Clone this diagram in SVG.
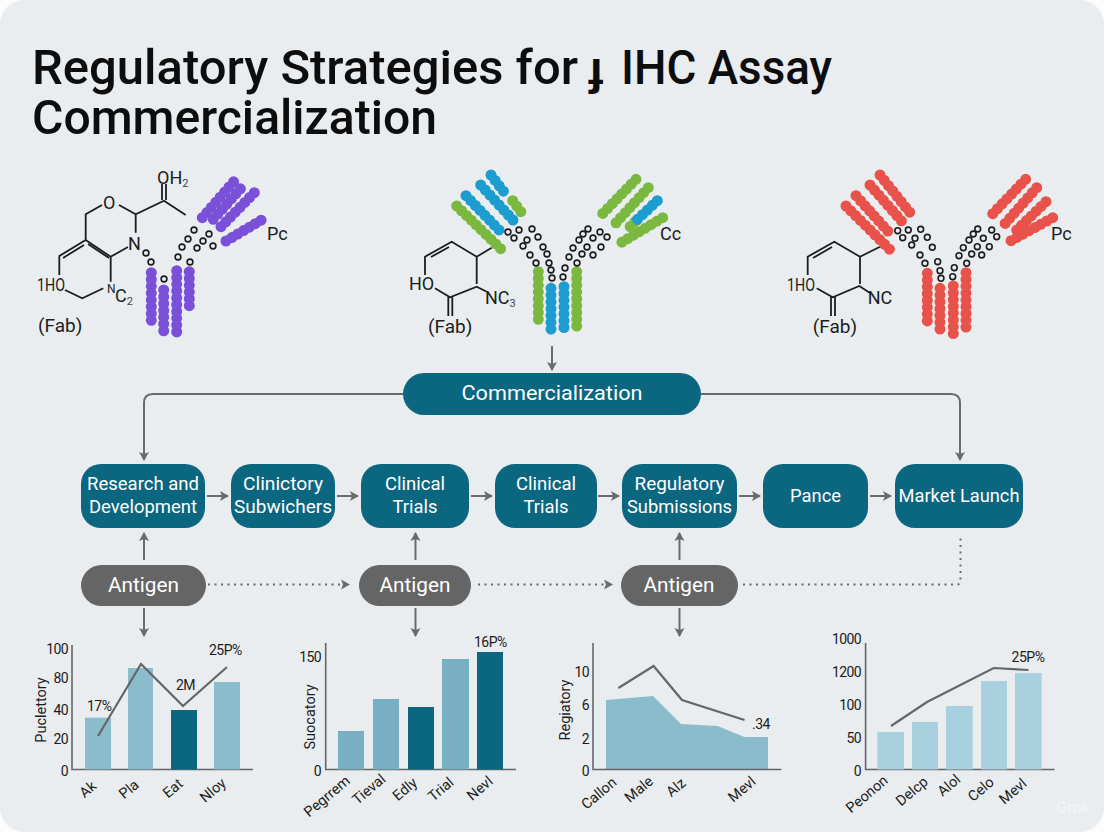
<svg xmlns="http://www.w3.org/2000/svg" width="1104" height="832" viewBox="0 0 1104 832">
<style>
text{font-family:Roboto,"Liberation Sans",sans-serif;fill:#1c1c1c}
.title{font-size:48px;font-weight:500;fill:#0d0d0d}
.nl{font-size:18px;fill:#fff;text-anchor:middle;font-weight:400}
.ag{font-size:21px;fill:#fff;text-anchor:middle}
.bond{fill:none;stroke:#1c1c1c;stroke-width:1.8}
.m{font-size:18px}
.s{font-size:11px;fill:#444}
.b{fill:none;stroke-width:11;stroke-linecap:round;stroke-dasharray:0 6.8}
.pu{stroke:#7a50d8}.gr{stroke:#7ab840}.bl{stroke:#1d9cd0}.re{stroke:#e8524a}
.r{fill:#e9edef;stroke:#1c1c1c;stroke-width:1.6}
.c{fill:none;stroke:#6a6a6a;stroke-width:2}
.d{fill:none;stroke:#6a6a6a;stroke-width:2;stroke-dasharray:2 4.5}
.ax{fill:none;stroke:#666;stroke-width:1.6}
.ln{fill:none;stroke:#666;stroke-width:2.2}
.t{font-size:14px;text-anchor:end;letter-spacing:-.6px}
.yl{font-size:14.5px;text-anchor:middle}
.xl{font-size:14.5px;text-anchor:middle}
.v{font-size:14px;letter-spacing:-.5px}
</style>
<defs>
<marker id="ah" markerUnits="userSpaceOnUse" markerWidth="12" markerHeight="12" refX="9" refY="6" orient="auto"><path d="M1 1L10 6L1 11L3 6Z" fill="#6a6a6a"/></marker>
</defs>
<rect width="1104" height="832" fill="#fcfcfc"/>
<rect width="1104" height="832" rx="24" fill="#e9edef"/>
<g id="title">
<text class="title" x="32" y="84" textLength="546" lengthAdjust="spacingAndGlyphs">Regulatory Strategies for</text>
<text class="title" x="588" y="84" style="font-size:46px;font-weight:700">ɟ</text>
<text class="title" x="621" y="84" textLength="211" lengthAdjust="spacingAndGlyphs">IHC Assay</text>
<text class="title" x="32" y="134" textLength="405" lengthAdjust="spacingAndGlyphs">Commercialization</text>
</g>
<g id="antibody-purple">
<path class="bond" d="M162 184V200M166 184V200M185.700 215L164 200.700L135.700 214.300L119 205M102 205L85.700 214.300V240L110.700 256.700L128 247M135.700 214.300V232.700M85.700 240L59.300 256V275M84 245L63 258M88 244L109 258M65 290L82.300 298.300L103.300 288.300M110.700 256.700V281.700"/>
<text class="m" x="157" y="184">OH<tspan class="s" dy="3">2</tspan></text>
<text class="m" x="103" y="209">O</text>
<text class="m" x="128" y="250">N</text>
<text class="m" x="37" y="291" textLength="28" lengthAdjust="spacingAndGlyphs">1HO</text>
<text x="107" y="293" style="font-size:12px">N</text>
<text class="m" x="115" y="302">C<tspan class="s" dy="3">2</tspan></text>
<text x="38" y="332" style="font-size:19px">(Fab)</text>
<text class="m" x="267" y="240">Pc</text>
<line class="b pu" x1="151.300" y1="272.700" x2="151.300" y2="326"/>
<line class="b pu" x1="163.700" y1="290" x2="163.700" y2="333"/>
<line class="b pu" x1="176.700" y1="270.700" x2="176.700" y2="334"/>
<line class="b pu" x1="189.300" y1="271.700" x2="189.300" y2="309"/>
<line class="b pu" x1="202.300" y1="217.700" x2="236.700" y2="178.300"/>
<line class="b pu" x1="213.300" y1="219.300" x2="241.700" y2="187.300"/>
<line class="b pu" x1="221" y1="226.700" x2="256" y2="191"/>
<line class="b pu" x1="226" y1="241" x2="266" y2="217.300"/>
<g class="r"><circle cx="146" cy="253" r="2.900"/><circle cx="151" cy="262" r="2.900"/><circle cx="164" cy="279" r="2.900"/><circle cx="178" cy="257" r="2.900"/><circle cx="182" cy="247" r="2.900"/><circle cx="188" cy="239" r="2.900"/><circle cx="194" cy="230" r="2.900"/><circle cx="190" cy="262" r="2.900"/><circle cx="197" cy="248" r="2.900"/><circle cx="203" cy="241" r="2.900"/><circle cx="209" cy="234" r="2.900"/><circle cx="213" cy="246" r="2.900"/></g>
</g>
<g id="antibody-blue-green">
<path class="bond" d="M491.700 247.700L476.700 256.700L451.700 241.700L425 256.700V275M435 288.300L450 297.300L476.700 286.700L486.700 291.700M476.700 256.700V284M449 247L431 257M448.300 297V316M452.300 297V316"/>
<text class="m" x="409" y="290">HO</text>
<text class="m" x="485" y="304">NC<tspan class="s" dy="3">3</tspan></text>
<text x="428" y="333" style="font-size:19px">(Fab)</text>
<text class="m" x="660" y="240">Cc</text>
<line class="b gr" x1="538.300" y1="271.700" x2="538.300" y2="326"/>
<line class="b bl" x1="551" y1="288.300" x2="551" y2="334"/>
<line class="b bl" x1="564" y1="286.700" x2="564" y2="334"/>
<line class="b gr" x1="576.700" y1="271.700" x2="576.700" y2="329"/>
<line class="b bl" x1="491" y1="175" x2="505" y2="193.300"/>
<line class="b gr" x1="512.700" y1="200.700" x2="524" y2="216"/>
<line class="b bl" x1="480.700" y1="185" x2="516" y2="223.300"/>
<line class="b bl" x1="466" y1="195.700" x2="500.700" y2="231.700"/>
<line class="b gr" x1="456.700" y1="206" x2="502.700" y2="250.700"/>
<line class="b gr" x1="636" y1="179.300" x2="599" y2="217.300"/>
<line class="b gr" x1="648.300" y1="187.700" x2="614" y2="225"/>
<line class="b gr" x1="662.700" y1="217.700" x2="621.700" y2="242.300"/>
<line class="b gr" x1="635" y1="221.700" x2="626" y2="230.700"/>
<line class="b bl" x1="657.300" y1="200.700" x2="633.300" y2="223.300"/>
<g class="r"><circle cx="508" cy="232" r="2.900"/><circle cx="514" cy="238" r="2.900"/><circle cx="523" cy="246" r="2.900"/><circle cx="530" cy="255" r="2.900"/><circle cx="536" cy="263" r="2.900"/><circle cx="519" cy="230" r="2.900"/><circle cx="527" cy="240" r="2.900"/><circle cx="532" cy="229" r="2.900"/><circle cx="538" cy="237" r="2.900"/><circle cx="543" cy="247" r="2.900"/><circle cx="547" cy="254" r="2.900"/><circle cx="549" cy="263" r="2.900"/><circle cx="551" cy="270" r="2.900"/><circle cx="552" cy="278" r="2.900"/><circle cx="563" cy="277" r="2.900"/><circle cx="565" cy="268" r="2.900"/><circle cx="569" cy="257" r="2.900"/><circle cx="573" cy="248" r="2.900"/><circle cx="579" cy="240" r="2.900"/><circle cx="583" cy="234" r="2.900"/><circle cx="588" cy="229" r="2.900"/><circle cx="577" cy="263" r="2.900"/><circle cx="582" cy="254" r="2.900"/><circle cx="587" cy="247" r="2.900"/><circle cx="593" cy="238" r="2.900"/><circle cx="600" cy="232" r="2.900"/><circle cx="607" cy="237" r="2.900"/><circle cx="601" cy="247" r="2.900"/><circle cx="593" cy="255" r="2.900"/></g>
</g>
<g id="antibody-red">
<path class="bond" d="M880 246.700L860 256.700L834.300 241.700L807.700 256.700V275M816.700 288.300L832.700 297.300L859.300 286L870 293M860 256.700V284M832 247L813 258M831 297V316M835 297V316"/>
<text class="m" x="787" y="291" textLength="28" lengthAdjust="spacingAndGlyphs">1HO</text>
<text class="m" x="867.700" y="304">NC</text>
<text x="812.700" y="333" style="font-size:19px">(Fab)</text>
<text class="m" x="1051" y="240">Pc</text>
<line class="b re" x1="927.300" y1="273.300" x2="927.300" y2="326"/>
<line class="b re" x1="940" y1="288.300" x2="940" y2="334"/>
<line class="b re" x1="953.300" y1="286" x2="953.300" y2="334"/>
<line class="b re" x1="966" y1="272.700" x2="966" y2="328"/>
<line class="b re" x1="880" y1="175" x2="912.700" y2="216"/>
<line class="b re" x1="870" y1="185" x2="902.700" y2="222.300"/>
<line class="b re" x1="856" y1="195.700" x2="889.300" y2="232.700"/>
<line class="b re" x1="846" y1="206" x2="891" y2="250.700"/>
<line class="b re" x1="1025.700" y1="179.300" x2="988.300" y2="218.300"/>
<line class="b re" x1="1036.700" y1="187.700" x2="1002.300" y2="226.700"/>
<line class="b re" x1="1046" y1="201.700" x2="1015" y2="231.700"/>
<line class="b re" x1="1052.700" y1="217.700" x2="1009.300" y2="241.700"/>
<g class="r"><circle cx="897.700" cy="230.700" r="2.900"/><circle cx="902.700" cy="237.700" r="2.900"/><circle cx="911.700" cy="245" r="2.900"/><circle cx="920" cy="255" r="2.900"/><circle cx="925" cy="263.300" r="2.900"/><circle cx="908.300" cy="230" r="2.900"/><circle cx="915" cy="238.300" r="2.900"/><circle cx="920.700" cy="229.300" r="2.900"/><circle cx="927.300" cy="237.300" r="2.900"/><circle cx="932.300" cy="247.300" r="2.900"/><circle cx="937.700" cy="261.700" r="2.900"/><circle cx="940" cy="270.700" r="2.900"/><circle cx="941" cy="278.300" r="2.900"/><circle cx="952.700" cy="276.700" r="2.900"/><circle cx="954.300" cy="267.700" r="2.900"/><circle cx="959" cy="255.700" r="2.900"/><circle cx="963.300" cy="247.700" r="2.900"/><circle cx="969" cy="240" r="2.900"/><circle cx="973.300" cy="234" r="2.900"/><circle cx="977.700" cy="229" r="2.900"/><circle cx="966.700" cy="263.300" r="2.900"/><circle cx="971.700" cy="254" r="2.900"/><circle cx="977.300" cy="246.700" r="2.900"/><circle cx="983.300" cy="238.300" r="2.900"/><circle cx="991.700" cy="230" r="2.900"/><circle cx="996.700" cy="236.700" r="2.900"/><circle cx="989.300" cy="246.700" r="2.900"/><circle cx="981.700" cy="255" r="2.900"/></g>
</g>
<g id="connectors">
<path class="c" marker-end="url(#ah)" d="M552 346V370"/>
<path class="c" marker-end="url(#ah)" d="M403 394H153Q144 394 144 403V460"/>
<path class="c" marker-end="url(#ah)" d="M701 394H951Q960 394 960 403V460"/>
<path class="c" marker-end="url(#ah)" d="M207 496H228"/>
<path class="c" marker-end="url(#ah)" d="M337 496H358"/>
<path class="c" marker-end="url(#ah)" d="M471 496H492"/>
<path class="c" marker-end="url(#ah)" d="M598 496H619"/>
<path class="c" marker-end="url(#ah)" d="M739 496H760"/>
<path class="c" marker-end="url(#ah)" d="M870 496H891"/>
<path class="c" marker-end="url(#ah)" d="M144 560V533"/>
<path class="c" marker-end="url(#ah)" d="M415.500 560V533"/>
<path class="c" marker-end="url(#ah)" d="M679.500 560V533"/>
<path class="c" marker-end="url(#ah)" d="M144 608V636"/>
<path class="c" marker-end="url(#ah)" d="M415.500 608V636"/>
<path class="c" marker-end="url(#ah)" d="M679.500 608V636"/>
<path class="d" marker-end="url(#ah)" d="M208 584.500H349"/>
<path class="d" marker-end="url(#ah)" d="M478 584.500H612"/>
<path class="d" d="M743 584.500H957Q960.500 584.500 960.500 581V534"/>
</g>
<g fill="#0b6680">
<g id="n-commercialization"><rect x="403" y="373" width="298" height="42" rx="21"/><text class="nl" x="552" y="400" style="font-size:20px" textLength="181" lengthAdjust="spacingAndGlyphs">Commercialization</text></g>
<g id="n-research"><rect x="81" y="464" width="124" height="64" rx="20"/><text class="nl" x="143" y="490" textLength="112" lengthAdjust="spacingAndGlyphs">Research and</text><text class="nl" x="143" y="513" textLength="108" lengthAdjust="spacingAndGlyphs">Development</text></g>
<g id="n-clinictory"><rect x="231" y="464" width="104" height="64" rx="20"/><text class="nl" x="283" y="490" textLength="80" lengthAdjust="spacingAndGlyphs">Clinictory</text><text class="nl" x="283" y="513" textLength="98" lengthAdjust="spacingAndGlyphs">Subwichers</text></g>
<g id="n-clinical-1"><rect x="361" y="464" width="108" height="64" rx="20"/><text class="nl" x="415" y="490" textLength="60" lengthAdjust="spacingAndGlyphs">Clinical</text><text class="nl" x="415" y="513" textLength="45" lengthAdjust="spacingAndGlyphs">Trials</text></g>
<g id="n-clinical-2"><rect x="495" y="464" width="102" height="64" rx="20"/><text class="nl" x="546" y="490" textLength="60" lengthAdjust="spacingAndGlyphs">Clinical</text><text class="nl" x="546" y="513" textLength="45" lengthAdjust="spacingAndGlyphs">Trials</text></g>
<g id="n-regulatory"><rect x="622" y="464" width="115" height="64" rx="20"/><text class="nl" x="679.500" y="490" textLength="90" lengthAdjust="spacingAndGlyphs">Regulatory</text><text class="nl" x="679.500" y="513" textLength="105" lengthAdjust="spacingAndGlyphs">Submissions</text></g>
<g id="n-pance"><rect x="763" y="464" width="105" height="64" rx="20"/><text class="nl" x="815.500" y="502" textLength="51" lengthAdjust="spacingAndGlyphs">Pance</text></g>
<g id="n-market"><rect x="895" y="464" width="128" height="64" rx="20"/><text class="nl" x="959" y="502" textLength="121" lengthAdjust="spacingAndGlyphs">Market Launch</text></g>
</g>
<g fill="#656565">
<g id="n-antigen-1"><rect x="81" y="565" width="125" height="41" rx="20.500"/><text class="ag" x="143.500" y="592" textLength="71" lengthAdjust="spacingAndGlyphs">Antigen</text></g>
<g id="n-antigen-2"><rect x="359" y="565" width="112" height="41" rx="20.500"/><text class="ag" x="415" y="592" textLength="71" lengthAdjust="spacingAndGlyphs">Antigen</text></g>
<g id="n-antigen-3"><rect x="621" y="565" width="117" height="41" rx="20.500"/><text class="ag" x="679" y="592" textLength="71" lengthAdjust="spacingAndGlyphs">Antigen</text></g>
</g>
<g id="chart-1">
<path class="ax" d="M72 645V769.500H253"/>
<rect x="85" y="717.700" width="26" height="51.800" fill="#8bbccc"/><rect x="128" y="668" width="25" height="101.500" fill="#8bbccc"/><rect x="171" y="710" width="26" height="59.500" fill="#0b6680"/><rect x="214" y="682" width="26" height="87.500" fill="#8bbccc"/>
<path class="ln" d="M98 736L141 664L183 706L227 667"/>
<text class="t" x="68" y="654">100</text><text class="t" x="68" y="683">80</text><text class="t" x="68" y="715">40</text><text class="t" x="68" y="744">20</text><text class="t" x="68" y="776">0</text>
<text class="yl" transform="translate(46 710) rotate(-90)">Puclettory</text>
<text class="v" x="87" y="711">17%</text><text class="v" x="176" y="690">2M</text><text class="v" x="209" y="655">25P%</text>
<text class="xl" transform="translate(91 793) rotate(-40)">Ak</text><text class="xl" transform="translate(132 793) rotate(-40)">Pla</text><text class="xl" transform="translate(176 792) rotate(-40)">Eat</text><text class="xl" transform="translate(216 794) rotate(-40)">Nloy</text>
</g>
<g id="chart-2">
<path class="ax" d="M325.700 643V769.500H516"/>
<rect x="338" y="731" width="26" height="38.500" fill="#78afc2"/><rect x="373" y="699" width="26" height="70.500" fill="#78afc2"/><rect x="408" y="707" width="26" height="62.500" fill="#0b6680"/><rect x="442" y="659" width="27" height="110.500" fill="#78afc2"/><rect x="477" y="652" width="26" height="117.500" fill="#0b6680"/>
<text class="t" x="321" y="662">150</text><text class="t" x="321" y="776">0</text>
<text class="yl" transform="translate(315 717) rotate(-90)">Suocatory</text>
<text class="v" x="474" y="647">16P%</text>
<text class="xl" transform="translate(330 800) rotate(-40)">Pegrrem</text><text class="xl" transform="translate(372 793) rotate(-40)">Tieval</text><text class="xl" transform="translate(408 793) rotate(-40)">Edly</text><text class="xl" transform="translate(444 793) rotate(-40)">Trial</text><text class="xl" transform="translate(483 792) rotate(-40)">Nevl</text>
</g>
<g id="chart-3">
<path d="M606 700L653 696L681 724L717.500 726L744.500 737H768V769.500H606Z" fill="#8bbccc"/>
<path class="ax" d="M593 643V769.500H781.400"/>
<path class="ln" d="M618.400 688L653.600 666L682 700L744.500 720"/>
<text class="t" x="589" y="677">10</text><text class="t" x="589" y="710">6</text><text class="t" x="589" y="744">2</text><text class="t" x="589" y="776">0</text>
<text class="yl" transform="translate(570 710) rotate(-90)">Regiatory</text>
<text class="v" x="752" y="729">.34</text>
<text class="xl" transform="translate(602 797) rotate(-40)">Callon</text><text class="xl" transform="translate(642 793) rotate(-40)">Male</text><text class="xl" transform="translate(679 791) rotate(-40)">Alz</text><text class="xl" transform="translate(745 793) rotate(-40)">Mevl</text>
</g>
<g id="chart-4">
<path class="ax" d="M865.600 643V769.500H1054.500"/>
<rect x="877.400" y="732" width="26.600" height="37.500" fill="#a8d0de"/><rect x="912" y="722" width="26" height="47.500" fill="#a8d0de"/><rect x="946" y="706" width="26.700" height="63.500" fill="#a8d0de"/><rect x="981" y="681" width="26" height="88.500" fill="#a8d0de"/><rect x="1015" y="673" width="26.700" height="96.500" fill="#a8d0de"/>
<path class="ln" d="M891 726L927 702L993.700 668L1028.500 670"/>
<text class="t" x="861" y="644">1000</text><text class="t" x="861" y="677">1200</text><text class="t" x="861" y="710">100</text><text class="t" x="861" y="743">50</text><text class="t" x="861" y="776">0</text>
<text class="v" x="1011.600" y="662">25P%</text>
<text class="xl" transform="translate(870 798) rotate(-40)">Peonon</text><text class="xl" transform="translate(915 795) rotate(-40)">Delcp</text><text class="xl" transform="translate(952 789) rotate(-40)">Alol</text><text class="xl" transform="translate(984 793) rotate(-40)">Celo</text><text class="xl" transform="translate(1016 795) rotate(-40)">Mevl</text>
</g>
<text x="1056" y="813" style="font-size:16px;fill:#f2f4f5;font-weight:500">Grok</text>
</svg>
